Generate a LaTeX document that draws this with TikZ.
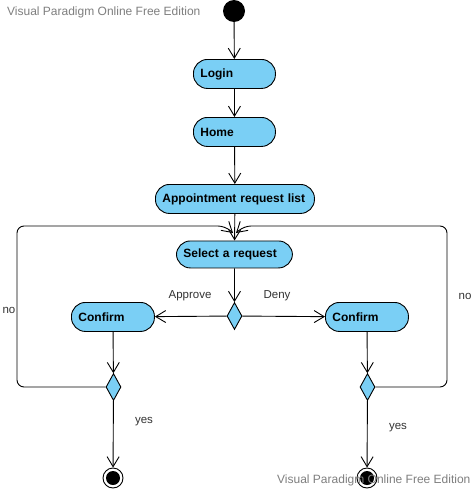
\documentclass[tikz,border=0pt]{standalone}
\usepackage{fontspec}
\setmainfont{Liberation Sans}
\usetikzlibrary{arrows.meta,shapes.geometric}
\definecolor{actfill}{HTML}{7ACFF5}
\definecolor{wmgray}{HTML}{7F7F7F}
\definecolor{lblgray}{HTML}{333333}
\begin{document}
\begin{tikzpicture}[x=1pt,y=-1pt,
  act/.style={draw=black, fill=actfill, rounded corners=14pt, line width=0.9pt,
    minimum height=29pt, inner xsep=7pt, inner ysep=0pt, align=left,
    font=\fontsize{12}{14}\selectfont\bfseries, anchor=north west},
  dec/.style={shape=diamond, draw=black, fill=actfill, line width=0.9pt,
    minimum width=15pt, minimum height=27pt, inner sep=0pt},
  arr/.style={draw=black, line width=0.9pt, -{Straight Barb[length=10pt,width=12pt]}},
  lbl/.style={font=\fontsize{11.5}{13}\selectfont, text=lblgray, inner sep=0pt},
  wm/.style={font=\fontsize{12}{14}\selectfont, text=wmgray, inner sep=0pt, anchor=west}
]
\useasboundingbox (0,0) rectangle (475,490);
\fill[white] (0,0) rectangle (475,490);

\node[wm] (wmtop) at (7,12) {Visual Paradigm Online Free Edition};

\node[circle, fill=black, minimum size=22pt, inner sep=0pt] (start) at (234,11) {};
\node[act, text width=68pt] (login) at (193,59) {Login};
\node[act, text width=68pt] (home) at (193,117) {Home};
\node[act, text width=145pt] (apl) at (155,184) {Appointment request list};
\node[act, text width=102pt, minimum height=27pt] (sel) at (176,240.5) {Select a request};
\node[dec] (d1) at (234.5,316) {};
\node[act, text width=69pt] (conf1) at (71,302) {Confirm};
\node[act, text width=69pt] (conf2) at (325,302) {Confirm};
\node[dec] (d2) at (113.5,387) {};
\node[dec] (d3) at (367.5,387) {};
\node[circle, draw=black, line width=0.9pt, fill=white, minimum size=20pt, inner sep=0pt] (end1) at (113,478) {};
\node[circle, draw=black, line width=0.9pt, fill=white, minimum size=20pt, inner sep=0pt] (end2) at (367,478) {};
\fill[black] (end1.center) circle (7pt);
\fill[black] (end2.center) circle (7pt);

\node[lbl] (lapp) at (190,296) {Approve};
\node[lbl] (ldeny) at (277,296) {Deny};
\node[lbl] (lno1) at (9,310) {no};
\node[lbl] (lno2) at (465,296) {no};
\node[lbl] (lyes1) at (144,422) {yes};
\node[lbl] (lyes2) at (398,428) {yes};

\coordinate (jl) at (233,233);
\coordinate (jr) at (236,233);

\draw[arr] (start) -- (login);
\draw[arr] (login) -- (home);
\draw[arr] (home) -- (apl);
\draw[arr] (apl) -- (sel);
\draw[arr] (sel) -- (d1);
\draw[arr] (d1) -- (conf1);
\draw[arr] (d1) -- (conf2);
\draw[arr] (conf1) -- (d2);
\draw[arr] (conf2) -- (d3);
\draw[arr] (d2) -- (end1);
\draw[arr] (d3) -- (end2);
\draw[arr, rounded corners=7pt] (d2.west) -| (17,226) -- (225,226) -- (jl);
\draw[arr, rounded corners=7pt] (d3.east) -| (447,226) -- (244,226) -- (jr);

\node[wm] (wmbot) at (277,480) {Visual Paradigm Online Free Edition};
\end{tikzpicture}
\end{document}
